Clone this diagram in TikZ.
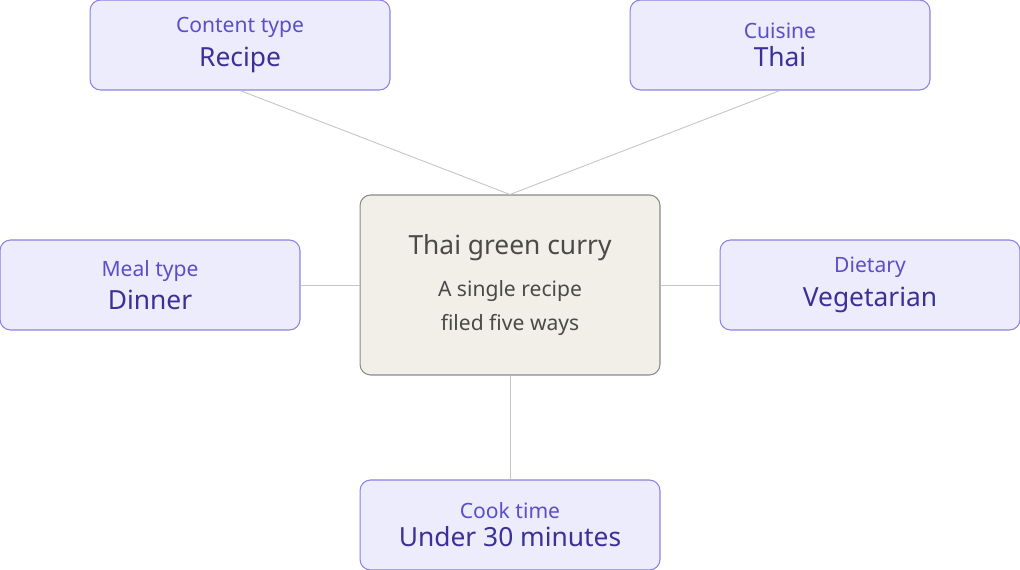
\documentclass[tikz,border=0pt]{standalone}
\usepackage{fontspec}
\setmainfont{Noto Sans}
\usetikzlibrary{positioning}
\definecolor{facetfill}{HTML}{EDECFD}
\definecolor{facetdraw}{HTML}{8C82E0}
\definecolor{facetlab}{HTML}{5A4FC6}
\definecolor{facetval}{HTML}{3A3096}
\definecolor{hubfill}{HTML}{F1EFE8}
\definecolor{hubdraw}{HTML}{8A8A86}
\definecolor{hubtext}{HTML}{4A4A46}
\definecolor{linkgray}{HTML}{C4C4C4}
\tikzset{
  facet/.style={draw=facetdraw, fill=facetfill, rounded corners=6pt, line width=0.6pt,
    minimum width=6cm, minimum height=1.8cm, align=center, inner sep=0pt},
  hub/.style={draw=hubdraw, fill=hubfill, rounded corners=6pt, line width=0.6pt,
    minimum width=6cm, minimum height=3.6cm, align=center, inner sep=0pt},
  link/.style={draw=linkgray, line width=0.5pt}
}
\newcommand{\facettext}[2]{{\fontsize{12}{14}\selectfont\color{facetlab}#1}\\[4pt]{\fontsize{15}{18}\selectfont\color{facetval}#2}}
\begin{document}
\begin{tikzpicture}[x=0.02cm,y=-0.02cm]
  \useasboundingbox (0,0) rectangle (1020,570);
  \node[hub] (curry) at (510,285) {{\fontsize{15}{18}\selectfont\color{hubtext}Thai green curry}\\[10pt]
    {\fontsize{12}{14}\selectfont\color{hubtext}A single recipe}\\[6pt]{\fontsize{12}{14}\selectfont\color{hubtext}filed five ways}};
  \node[facet] (content) at (240,45) {\facettext{Content type}{Recipe}};
  \node[facet] (cuisine) at (780,45) {\facettext{Cuisine}{Thai}};
  \node[facet] (meal) at (150,285) {\facettext{Meal type}{Dinner}};
  \node[facet] (diet) at (870,285) {\facettext{Dietary}{Vegetarian}};
  \node[facet] (cook) at (510,525) {\facettext{Cook time}{Under 30 minutes}};
  \draw[link] (content.south) -- (curry.north);
  \draw[link] (cuisine.south) -- (curry.north);
  \draw[link] (meal.east) -- (curry.west);
  \draw[link] (diet.west) -- (curry.east);
  \draw[link] (curry.south) -- (cook.north);
\end{tikzpicture}
\end{document}
